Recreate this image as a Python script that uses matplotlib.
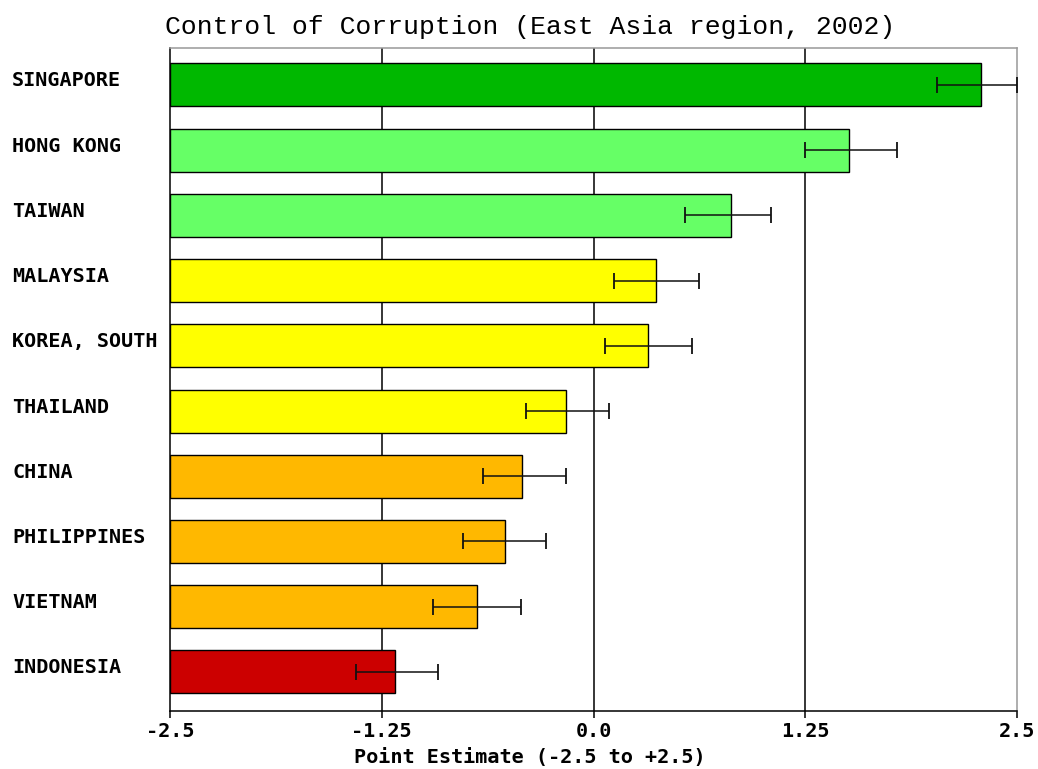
import numpy as np
import matplotlib
matplotlib.use("Agg")
import matplotlib.pyplot as plt
from matplotlib.transforms import ScaledTranslation

# values (point estimates and error bar ends)
countries = ["SINGAPORE", "HONG KONG", "TAIWAN", "MALAYSIA", "KOREA, SOUTH",
             "THAILAND", "CHINA", "PHILIPPINES", "VIETNAM", "INDONESIA"]
estimates = [2.29, 1.51, 0.81, 0.37, 0.32, -0.16, -0.42, -0.52, -0.69, -1.17]
err_low = [2.03, 1.25, 0.54, 0.12, 0.07, -0.40, -0.65, -0.77, -0.95, -1.40]
err_high = [2.50, 1.79, 1.05, 0.62, 0.58, 0.09, -0.16, -0.28, -0.43, -0.92]
bar_colors = ["#00B800", "#66FF66", "#66FF66", "#FFFF00", "#FFFF00",
              "#FFFF00", "#FFB800", "#FFB800", "#FFB800", "#CC0000"]
xticks = [-2.5, -1.25, 0.0, 1.25, 2.5]
xtick_labels = ["-2.5", "-1.25", "0.0", "1.25", "2.5"]

fig = plt.figure(figsize=(10.38, 7.69), dpi=100)
ax = fig.add_axes([170 / 1038, 1 - 711 / 769, (1017 - 170) / 1038, (711 - 48) / 769])

base = -2.5
y = np.arange(len(countries))
est = np.array(estimates)
lo = est - np.array(err_low)
hi = np.array(err_high) - est

for xv in xticks[1:-1]:
    ax.axvline(xv, color="black", lw=1.1, zorder=1)

ax.barh(y, est - base, left=base, height=0.66, color=bar_colors,
        edgecolor="black", linewidth=1.0, zorder=2)
ax.errorbar(est, y, xerr=[lo, hi], fmt="none", ecolor="#111111",
            elinewidth=1.1, capsize=6, capthick=1.3, zorder=3)

ax.set_xlim(-2.5, 2.5)
ax.set_ylim(len(countries) - 0.4, -0.567)

mono = "DejaVu Sans Mono"
ax.set_xticks(xticks)
ax.set_xticklabels(xtick_labels, fontfamily=mono, fontweight="bold", fontsize=14.5)
ax.tick_params(axis="x", length=5, width=1.1, pad=3, color="black")

ax.set_yticks(y)
ax.set_yticklabels(countries, fontfamily=mono, fontweight="bold", fontsize=14.5, ha="left")
ax.tick_params(axis="y", length=0, pad=158 * 0.72)
# labels sit a little above the bar centres in the original
shift = ScaledTranslation(0, 6 / 100, fig.dpi_scale_trans)
for lab in ax.get_yticklabels():
    lab.set_transform(lab.get_transform() + shift)

for side in ["left", "bottom"]:
    ax.spines[side].set_color("black")
    ax.spines[side].set_linewidth(1.1)
for side in ["top", "right"]:
    ax.spines[side].set_color("#999999")
    ax.spines[side].set_linewidth(1.1)

fig.text(530 / 1038, 1 - 27 / 769, "Control of Corruption (East Asia region, 2002)",
         ha="center", va="center", fontfamily="Liberation Mono", fontsize=19)
fig.text(530 / 1038, 1 - 758 / 769, "Point Estimate (-2.5 to +2.5)",
         ha="center", va="center", fontfamily=mono, fontweight="bold", fontsize=14.5)

fig.savefig("out.png", dpi=100)
